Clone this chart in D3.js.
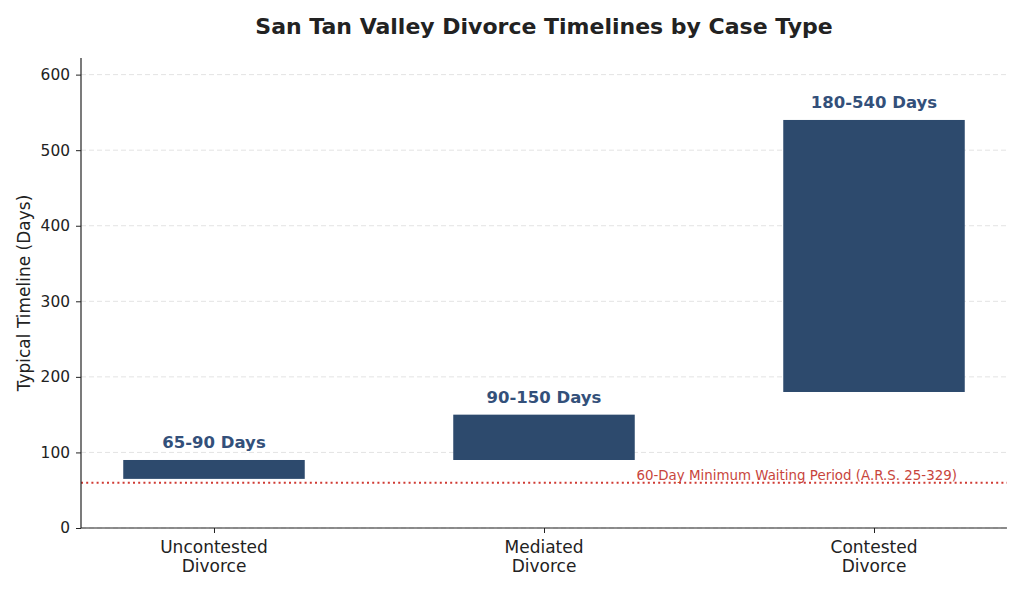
<!DOCTYPE html>
<html>
<head>
<meta charset="utf-8">
<script src="https://cdn.jsdelivr.net/npm/d3@7"></script>
<style>
  body { margin: 0; background: #fff; }
  text { font-family: "DejaVu Sans", sans-serif; }
</style>
</head>
<body>
<div id="chart"></div>
<script>
// Data
const categories = ['Uncontested\nDivorce', 'Mediated\nDivorce', 'Contested\nDivorce'];
const lowDays = [65, 90, 180];
const highDays = [90, 150, 540];
const barLabels = ['65-90 Days', '90-150 Days', '180-540 Days'];
const yTicks = [0, 100, 200, 300, 400, 500, 600];
const minWaiting = 60;
const minWaitingLabel = '60-Day Minimum Waiting Period (A.R.S. 25-329)';

const width = 1024, height = 592;
const margin = { top: 58, right: 17, bottom: 64, left: 81 };
const innerW = width - margin.left - margin.right;
const innerH = height - margin.top - margin.bottom;

const svg = d3.select('#chart').append('svg')
  .attr('width', width)
  .attr('height', height);

const chart = svg.append('g')
  .attr('transform', `translate(${margin.left},${margin.top})`);

const data = categories.map((c, i) => ({ cat: c, idx: i, low: lowDays[i], high: highDays[i], label: barLabels[i] }));

// x as continuous positions like matplotlib bar indices
const xScale = d3.scaleLinear().domain([-0.403, 2.403]).range([0, innerW]);
const yScale = d3.scaleLinear().domain([0, 622]).range([innerH, 0]);
const barW = xScale(0.55) - xScale(0);

// grid lines
chart.append('g')
  .selectAll('line')
  .data(yTicks)
  .join('line')
  .attr('x1', 0).attr('x2', innerW)
  .attr('y1', d => yScale(d)).attr('y2', d => yScale(d))
  .attr('stroke', '#e3e3e3')
  .attr('stroke-dasharray', '5,3')
  .attr('stroke-width', 1);

// bars
chart.selectAll('.bar')
  .data(data)
  .join('rect')
  .attr('class', 'bar')
  .attr('x', d => xScale(d.idx) - barW / 2)
  .attr('width', barW)
  .attr('y', d => yScale(d.high))
  .attr('height', d => yScale(d.low) - yScale(d.high))
  .attr('fill', '#2d4a6d');

// bar labels
chart.selectAll('.bar-label')
  .data(data)
  .join('text')
  .attr('class', 'bar-label')
  .attr('x', d => xScale(d.idx))
  .attr('y', d => yScale(d.high) - 12)
  .attr('text-anchor', 'middle')
  .attr('fill', '#33507a')
  .attr('font-weight', 'bold')
  .attr('font-size', '16.5px')
  .text(d => d.label);

// minimum waiting period line
chart.append('line')
  .attr('x1', 0).attr('x2', innerW)
  .attr('y1', yScale(minWaiting)).attr('y2', yScale(minWaiting))
  .attr('stroke', '#d03a33')
  .attr('stroke-width', 2)
  .attr('stroke-dasharray', '2,3.2');

chart.append('text')
  .attr('x', xScale(1.28))
  .attr('y', yScale(minWaiting) - 3)
  .attr('fill', '#c8453c')
  .attr('font-size', '13.4px')
  .text(minWaitingLabel);

// axes
const yAxis = d3.axisLeft(yScale).tickValues(yTicks).tickSize(5).tickPadding(6).tickSizeOuter(0);
const yAxisG = chart.append('g').attr('class', 'axis y-axis').call(yAxis);
yAxisG.select('.domain').attr('stroke', '#222').attr('stroke-width', 1.2).attr('d', `M0,0V${innerH}`);
yAxisG.selectAll('.tick line').attr('stroke', '#222');
yAxisG.selectAll('.tick text').attr('font-size', '15.4px').attr('fill', '#222').attr('font-family', '"DejaVu Sans", sans-serif');

const xAxis = d3.axisBottom(xScale).tickValues([0, 1, 2]).tickSize(5).tickFormat('').tickSizeOuter(0);
const xAxisG = chart.append('g').attr('class', 'axis x-axis')
  .attr('transform', `translate(0,${innerH})`).call(xAxis);
xAxisG.select('.domain').attr('stroke', '#222').attr('stroke-width', 1.2).attr('d', `M0,0H${innerW}`);
xAxisG.selectAll('.tick line').attr('stroke', '#222');

// category labels (two lines)
const catText = chart.append('g').selectAll('text')
  .data(data)
  .join('text')
  .attr('x', d => xScale(d.idx))
  .attr('y', innerH + 25)
  .attr('text-anchor', 'middle')
  .attr('font-size', '17px')
  .attr('fill', '#222');
catText.selectAll('tspan')
  .data(d => d.cat.split('\n').map(s => ({ s, x: xScale(d.idx) })))
  .join('tspan')
  .attr('x', d => d.x)
  .attr('dy', (d, i) => i === 0 ? 0 : '1.12em')
  .text(d => d.s);

// y-axis title
chart.append('text')
  .attr('transform', 'rotate(-90)')
  .attr('x', -innerH / 2)
  .attr('y', -51)
  .attr('text-anchor', 'middle')
  .attr('font-size', '17px')
  .attr('fill', '#222')
  .text('Typical Timeline (Days)');

// title
svg.append('text')
  .attr('x', 544)
  .attr('y', 34)
  .attr('text-anchor', 'middle')
  .attr('font-size', '22px')
  .attr('font-weight', 'bold')
  .attr('fill', '#222')
  .text('San Tan Valley Divorce Timelines by Case Type');
</script>
</body>
</html>
